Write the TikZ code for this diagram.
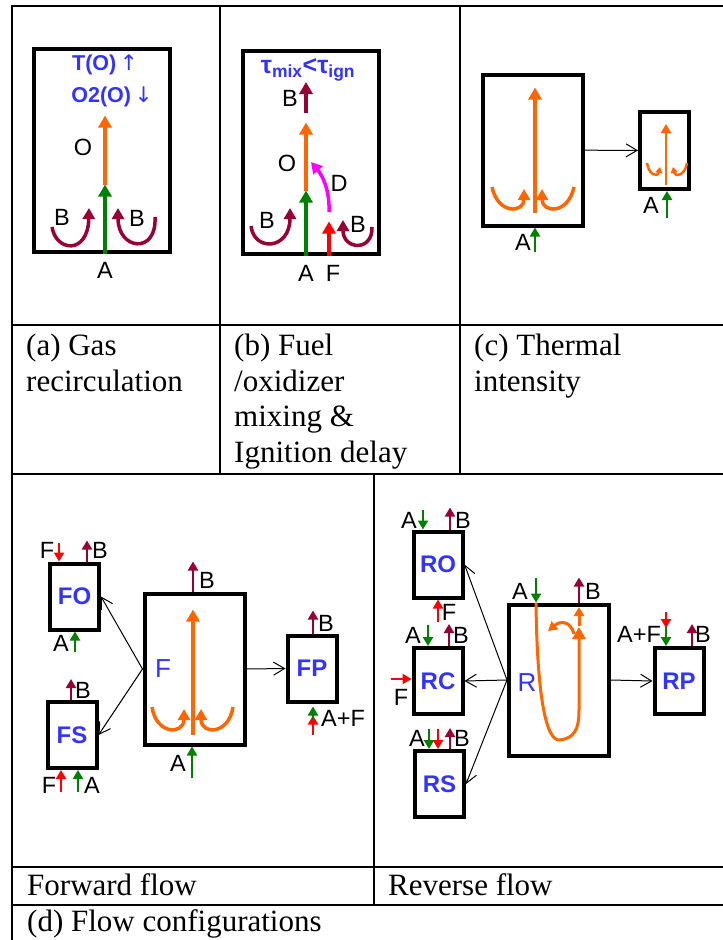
\documentclass[tikz,border=0pt]{standalone}
\usepackage{fontspec}
\setmainfont{Liberation Sans}
\newfontfamily\capfont{Liberation Serif}
\newfontfamily\arrowfont{DejaVu Sans}
\usetikzlibrary{arrows.meta}

\definecolor{flame}{RGB}{255,102,0}
\definecolor{leaf}{RGB}{0,128,0}
\definecolor{wine}{RGB}{153,0,51}
\definecolor{fuelred}{RGB}{255,0,0}
\definecolor{pinkish}{RGB}{255,0,255}
\definecolor{labelblue}{RGB}{51,51,255}

\tikzset{
  vessel/.style={draw, line width=4pt, inner sep=0pt, text=labelblue,
    font=\fontsize{24}{26}\selectfont\bfseries},
  smallbox/.style={vessel, minimum width=49pt, minimum height=66pt},
  bigbox/.style={vessel, minimum width=100pt, minimum height=151pt},
  tallbox/.style={vessel, minimum width=136pt, minimum height=203pt},
  lbl/.style={inner sep=0pt, font=\fontsize{23.5}{25}\selectfont},
  note/.style={inner sep=0pt, text=labelblue, font=\fontsize{21.5}{24}\selectfont\bfseries},
  caption/.style={inner sep=0pt, align=left, anchor=north west,
    font=\capfont\fontsize{31}{35.5}\selectfont},
  rule/.style={line width=2.5pt},
  flow/.style={line width=3.5pt, -{Triangle[width=13pt,length=12pt]}},
  curl/.style={line width=3.5pt, -{Triangle[width=12pt,length=11pt]}},
  stub/.style={line width=2.5pt, -{Triangle[width=10pt,length=9pt]}},
  tiny/.style={line width=2.5pt, -{Triangle[width=7pt,length=6pt]}},
  link/.style={line width=1pt, -{Straight Barb[length=11pt,width=13pt]}},
}

\begin{document}
\begin{tikzpicture}[x=1pt, y=-1pt]
  \useasboundingbox (0,0) rectangle (723,940);

  \draw[rule] (723,6) -- (12,6) -- (12,940);
  \draw[rule] (220,6) -- (220,474);
  \draw[rule] (460,6) -- (460,474);
  \draw[rule] (12,325) -- (723,325);
  \draw[rule] (12,474) -- (723,474);
  \draw[rule] (374,474) -- (374,905);
  \draw[rule] (12,867) -- (723,867);
  \draw[rule] (12,905) -- (723,905);

  % (a)
  \node[tallbox] (boxa) at (102,150) {};
  \draw[flow, leaf] ([xshift=3pt]boxa.south) -- ++(0,-69) coordinate (aMid);
  \draw[flow, flame] (aMid) -- ++(0,-69);
  \draw[curl, wine] (52,227) .. controls (56,252) and (88,255) .. (89,208);
  \draw[curl, wine] (155,217) .. controls (157,255) and (118,250) .. (118,208);
  \node[note] (aTemp) at (105,65) {T(O)\,{\arrowfont\mdseries ↑}};
  \node[note] (aOxy) at (112,97) {O2(O)\,{\arrowfont\mdseries ↓}};
  \node[lbl] (aO) at (83,147) {O};
  \node[lbl] (aB1) at (62,217) {B};
  \node[lbl] (aB2) at (137,218) {B};
  \node[lbl] (aA) at (105,270) {A};

  % (b)
  \node[tallbox] (boxb) at (311,152) {};
  \draw[flow, leaf] ([xshift=-5pt]boxb.south) -- ++(0,-65) coordinate (bMid);
  \draw[flow, flame] (bMid) -- ++(0,-68);
  \draw[flow, wine] (306,113) -- ++(0,-31);
  \draw[flow, fuelred] ([xshift=18pt]boxb.south) -- ++(0,-34);
  \draw[curl, pinkish] (329,212) .. controls (330,190) and (322,175) .. (311,162);
  \draw[curl, wine] (251,226) .. controls (254,252) and (290,250) .. (290,208);
  \draw[curl, wine] (372,227) .. controls (373,252) and (343,250) .. (343,220);
  \node[note, font=\fontsize{25}{28}\selectfont\bfseries] (bTau) at (308,70)
    {τ\textsubscript{mix}<τ\textsubscript{ign}};
  \node[lbl] (bB) at (290,98) {B};
  \node[lbl] (bO) at (287,163) {O};
  \node[lbl] (bD) at (339,183) {D};
  \node[lbl] (bB1) at (267,220) {B};
  \node[lbl] (bB2) at (358,224) {B};
  \node[lbl] (bA) at (306,273) {A};
  \node[lbl] (bF) at (333,273) {F};

  % (c)
  \node[bigbox] (boxc) at (533,150) {};
  \node[vessel, minimum width=49pt, minimum height=77pt] (boxc2) at (664.5,150.5) {};
  \draw[link] (boxc) -- (boxc2);
  \draw[flow, flame] ([xshift=2pt,yshift=15pt]boxc.south) -- ++(0,-125);
  \draw[curl, flame] (492,187) .. controls (498,215) and (524,213) .. (524,189);
  \draw[curl, flame] (574,187) .. controls (568,215) and (542,213) .. (542,189);
  \draw[stub, leaf] ([xshift=2pt,yshift=-24pt]boxc.south) -- ([xshift=2pt]boxc.south);
  \draw[stub, flame] ([xshift=1.5pt,yshift=6pt]boxc2.south) -- ++(0,-61);
  \draw[tiny, flame] (647,163) .. controls (649,176) and (658,177) .. (660,167);
  \draw[tiny, flame] (687,163) .. controls (685,176) and (675,177) .. (673,167);
  \draw[stub, leaf] ([xshift=2.5pt,yshift=-27pt]boxc2.south) -- ([xshift=2.5pt]boxc2.south);
  \node[lbl] (cA1) at (523,242) {A};
  \node[lbl] (cA2) at (651,205) {A};

  % forward flow
  \node[bigbox] (F) at (194.5,669) {};
  \node[smallbox] (FO) at (74.5,596.5) {FO};
  \node[smallbox] (FS) at (72,735) {FS};
  \node[smallbox] (FP) at (312,668.5) {FP};
  \draw[link] (F.west) -- (FO.east);
  \draw[link] (F.west) -- (FS.east);
  \draw[link] (F.east) -- (FP.west);

  \draw[flow, flame] ([xshift=-1.5pt,yshift=12pt]F.south) -- ++(0,-125);
  \draw[curl, flame] (152,707) .. controls (156,735) and (184,735) .. (184,709);
  \draw[curl, flame] (233,707) .. controls (229,735) and (201,735) .. (201,709);
  \draw[stub, wine] ([xshift=-1.5pt]F.north) -- ++(0,-30);
  \draw[stub, leaf] ([xshift=-2.5pt,yshift=-31pt]F.south) -- ([xshift=-2.5pt]F.south);
  \node[lbl, text=labelblue, font=\fontsize{26}{28}\selectfont] (Flab) at (163,669) {F};
  \node[lbl] (FB) at (207,580) {B};
  \node[lbl] (FA) at (178,763) {A};

  \draw[stub, fuelred] ([xshift=-15.5pt,yshift=19pt]FO.north) -- ([xshift=-15.5pt]FO.north);
  \draw[stub, wine] ([xshift=12.5pt]FO.north) -- ++(0,-21);
  \draw[stub, leaf] ([xshift=0.5pt,yshift=-20pt]FO.south) -- ([xshift=0.5pt]FO.south);
  \node[lbl] (FOf) at (47,550) {F};
  \node[lbl] (FOb) at (100,550) {B};
  \node[lbl] (FOa) at (61,643) {A};

  \draw[stub, wine] ([xshift=-1pt]FS.north) -- ++(0,-21);
  \draw[stub, fuelred] ([xshift=-11pt,yshift=-22pt]FS.south) -- ([xshift=-11pt]FS.south);
  \draw[stub, leaf] ([xshift=6pt,yshift=-22pt]FS.south) -- ([xshift=6pt]FS.south);
  \node[lbl] (FSb) at (83,690) {B};
  \node[lbl] (FSf) at (49,785) {F};
  \node[lbl] (FSa) at (92,785) {A};

  \draw[stub, wine] ([xshift=1pt]FP.north) -- ++(0,-23);
  \draw[stub, fuelred] ([xshift=1pt,yshift=-31pt]FP.south) -- ++(0,-19);
  \draw[stub, leaf] ([xshift=1pt,yshift=-16pt]FP.south) -- ++(0,-13);
  \node[lbl] (FPb) at (326,623) {B};
  \node[lbl] (FPaf) at (343,718) {A+F};

  % reverse flow
  \node[bigbox] (R) at (559,680) {};
  \node[smallbox] (RO) at (438,564.5) {RO};
  \node[smallbox] (RC) at (438,681) {RC};
  \node[smallbox] (RS) at (439.5,784) {RS};
  \node[smallbox] (RP) at (679,681) {RP};
  \draw[link] (R.west) -- (RO.east);
  \draw[link] (R.west) -- (RC.east);
  \draw[link] (R.west) -- (RS.east);
  \draw[link] (R.east) -- (RP.west);

  \draw[stub, leaf] ([xshift=-23pt,yshift=25pt]R.north) -- ([xshift=-23pt]R.north);
  \draw[stub, wine] ([xshift=20pt]R.north) -- ++(0,-25);
  \draw[flow, flame, line width=3pt] ([xshift=-23pt]R.north) .. controls (537,690) and (545,742) .. (560,740)
    .. controls (574,738) and (579,730) .. (579,710) -- (579,627);
  \draw[stub, flame, line width=3pt] (579,626) -- (579,607);
  \draw[stub, flame, line width=3pt] (574,634) .. controls (570,620) and (560,621) .. (548,631);
  \node[lbl, text=labelblue, font=\fontsize{26}{28}\selectfont] (Rlab) at (527,683) {R};
  \node[lbl] (RA) at (520,591) {A};
  \node[lbl] (RB) at (593,591) {B};

  \draw[stub, leaf] ([xshift=-15pt,yshift=20pt]RO.north) -- ([xshift=-15pt]RO.north);
  \draw[stub, wine] ([xshift=12pt]RO.north) -- ++(0,-22);
  \draw[stub, fuelred] ([yshift=-22pt]RO.south) -- (RO.south);
  \node[lbl] (ROa) at (409,520) {A};
  \node[lbl] (ROb) at (463,520) {B};
  \node[lbl] (ROf) at (449,612) {F};

  \draw[stub, leaf] ([xshift=-10pt,yshift=21pt]RC.north) -- ([xshift=-10pt]RC.north);
  \draw[stub, wine] ([xshift=11pt]RC.north) -- ++(0,-22);
  \draw[stub, fuelred] ([xshift=-21pt,yshift=2pt]RC.west) -- ([yshift=2pt]RC.west);
  \node[lbl] (RCa) at (413,635) {A};
  \node[lbl] (RCb) at (461,635) {B};
  \node[lbl] (RCf) at (401,697) {F};

  \draw[stub, leaf] ([xshift=-10.5pt,yshift=20pt]RS.north) -- ([xshift=-10.5pt]RS.north);
  \draw[stub, fuelred] ([xshift=-1.5pt,yshift=20pt]RS.north) -- ([xshift=-1.5pt]RS.north);
  \draw[stub, wine] ([xshift=10.5pt]RS.north) -- ++(0,-21);
  \node[lbl] (RSa) at (417,738) {A};
  \node[lbl] (RSb) at (462,738) {B};

  \draw[stub, leaf] ([xshift=-13pt,yshift=19pt]RP.north) -- ([xshift=-13pt]RP.north);
  \draw[stub, fuelred] ([xshift=-13pt,yshift=34pt]RP.north) -- ++(0,16);
  \draw[stub, wine] ([xshift=13pt]RP.north) -- ++(0,-22);
  \node[lbl] (RPaf) at (639,634) {A+F};
  \node[lbl] (RPb) at (703,634) {B};

  % captions
  \node[caption] (capa) at (26,334) {(a) Gas\\recirculation};
  \node[caption] (capb) at (234,334) {(b) Fuel\\/oxidizer\\mixing \&\\Ignition delay};
  \node[caption] (capc) at (474,334) {(c) Thermal\\intensity};
  \node[caption, anchor=base west] (capf) at (27,895) {Forward flow};
  \node[caption, anchor=base west] (capr) at (388,895) {Reverse flow};
  \node[caption, anchor=base west] (capd) at (27,931) {(d) Flow configurations};
\end{tikzpicture}
\end{document}
